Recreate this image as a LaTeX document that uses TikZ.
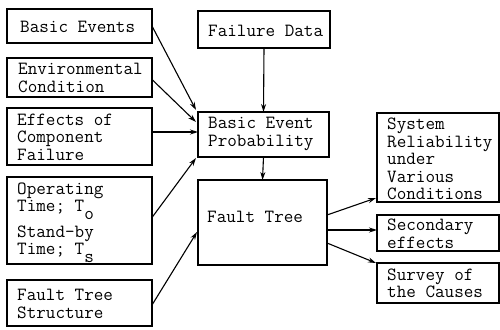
\documentclass[tikz,border=0pt]{standalone}
\usepackage{fontspec}
\usetikzlibrary{arrows.meta}
\begin{document}
\begin{tikzpicture}[x=1pt,y=-1pt,
  box/.style={draw, line width=1.1pt, inner sep=0pt, outer sep=0pt},
  txt/.style={anchor=west, inner sep=0pt, align=left,
    font=\ttfamily\fontsize{18.6}{17.5}\selectfont},
  arr/.style={line width=1.1pt, -{Stealth[length=8pt,width=5pt]}}]
\useasboundingbox (0,0) rectangle (500,329);
% boxes
\node[box, minimum width=145pt, minimum height=34pt] (be)  at (79.5,26) {};
\node[box, minimum width=145pt, minimum height=39pt] (env) at (79.5,77.5) {};
\node[box, minimum width=145pt, minimum height=57pt] (eff) at (79.5,136.5) {};
\node[box, minimum width=145pt, minimum height=87pt] (op)  at (79.5,220.5) {};
\node[box, minimum width=145pt, minimum height=46pt] (fts) at (79.5,303) {};
\node[box, minimum width=132pt, minimum height=37pt] (fd)  at (264,29.5) {};
\node[box, minimum width=131pt, minimum height=45pt] (bep) at (263.5,134.5) {};
\node[box, minimum width=129pt, minimum height=85pt] (ft)  at (262.5,222.5) {};
\node[box, minimum width=122pt, minimum height=89pt] (sr)  at (438,157.5) {};
\node[box, minimum width=122pt, minimum height=36pt] (se)  at (438,233) {};
\node[box, minimum width=122pt, minimum height=40pt] (su)  at (438,283) {};
% texts
\node[txt] (bet)  at (20,27) {Basic Events};
\node[txt] (envt) at (18,78) {Environmental\\Condition};
\node[txt] (efft) at (17,137) {Effects of\\Component\\Failure};
\node[txt] (opt)  at (17,220) {Operating\\Time; T\smash{\raisebox{-8pt}{o}}\\[8pt]Stand-by\\Time; T\smash{\raisebox{-8pt}{s}}};
\node[txt] (ftst) at (17,304) {Fault Tree\\Structure};
\node[txt] (fdt)  at (208,31) {Failure Data};
\node[txt] (bept) at (208,134) {Basic Event\\Probability};
\node[txt] (ftt)  at (207,217) {Fault Tree};
\node[txt] (srt)  at (387,159) {System\\Reliability\\under\\Various\\Conditions};
\node[txt] (set)  at (387,234) {Secondary\\effects};
\node[txt] (sut)  at (387,283.5) {Survey of\\the Causes};
% connectors
\draw[arr] (be.east) -- ([xshift=-2pt,yshift=2pt]bep.north west);
\draw[arr] ([yshift=-2pt]env.east) -- ([xshift=-2pt,yshift=12.5pt]bep.west);
\draw[arr] ([yshift=4.5pt]eff.east) -- ([yshift=2.5pt]bep.west);
\draw[arr] ([yshift=3pt]op.east) -- ([xshift=-2pt,yshift=-1pt]bep.south west);
\draw[arr] ([yshift=-2pt]fts.east) -- ([xshift=-1pt,yshift=-9.5pt]ft.west);
\draw[arr] (fd.south) -- (bep.north);
\draw[arr] (bep.south) -- (ft.north);
\draw[arr] ([yshift=7.5pt]ft.east) -- ([xshift=-1pt,yshift=4pt]sr.south west);
\draw[arr] ([yshift=-7.5pt]ft.east) -- ([yshift=3pt]se.west);
\draw[arr] ([yshift=-20.5pt]ft.east) -- ([xshift=-1pt]su.north west);
\end{tikzpicture}
\end{document}
